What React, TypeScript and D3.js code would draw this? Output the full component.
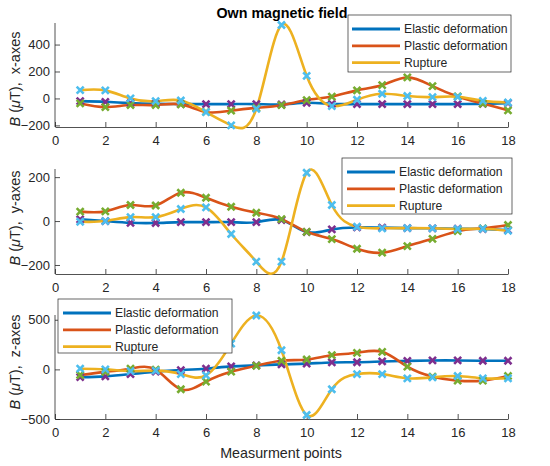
import { useEffect, useRef } from "react";
import * as d3 from "d3";

// measurement points along the x axis
const points = [1, 2, 3, 4, 5, 6, 7, 8, 9, 10, 11, 12, 13, 14, 15, 16, 17, 18];
const xTicks = [0, 2, 4, 6, 8, 10, 12, 14, 16, 18];
const seriesNames = ["Elastic deformation", "Plastic deformation", "Rupture"];

// x-axes component
const elasticX = [-20, -25, -35, -40, -42, -42, -42, -42, -45, -32, -40, -42, -42, -42, -42, -42, -40, -35];
const plasticX = [-37, -64, -49, -49, -44, -100, -91, -70, -50, -12, 14, 60, 99, 156, 91, 15, -38, -88];
const ruptureX = [62, 60, 0, -20, -15, -102, -200, -77, 545, 168, -57, -10, 35, 18, 10, 12, -18, -30];
const yTicksX = [-200, 0, 200, 400];

// y-axes component
const elasticY = [8, 0, -8, -9, -5, -5, -5, -5, 5, -50, -38, -29, -30, -32, -33, -35, -36, -41];
const plasticY = [43, 44, 73, 71, 129, 106, 65, 38, 9, -49, -82, -126, -144, -114, -81, -46, -33, -18];
const ruptureY = [-3, 0, 18, 18, 55, 62, -59, -185, -185, 220, 73, -26, -33, -32, -33, -36, -35, -44];
const yTicksY = [-200, 0, 200];

// z-axes component
const elasticZ = [-78, -70, -47, -23, -7, 7, 30, 40, 50, 58, 70, 72, 80, 86, 90, 90, 87, 87];
const plasticZ = [-57, -25, 7, -3, -200, -123, -23, 37, 87, 100, 143, 167, 177, 27, -73, -113, -113, -67];
const ruptureZ = [7, 0, -17, -13, -47, -60, 260, 543, 193, -460, -200, -47, -47, -90, -80, -67, -90, -90];
const yTicksZ = [-500, 0, 500];

const lineColors = ["#0072BD", "#D95319", "#EDB120"];
const markerColors = ["#7E2F8E", "#77AC30", "#4DBEEE"];
const font = "'Liberation Sans', Arial, Helvetica, sans-serif";
const ink = "#262626";

const panels = [
  {
    axisName: "x-axes",
    series: [elasticX, plasticX, ruptureX],
    domain: [-212, 560],
    ticks: yTicksX,
    top: 23,
    bottom: 127,
    labelY: 79,
    legend: { x: 348, y: 15, w: 163, h: 57, lineX: 352 },
  },
  {
    axisName: "y-axes",
    series: [elasticY, plasticY, ruptureY],
    domain: [-241, 237],
    ticks: yTicksY,
    top: 169,
    bottom: 274,
    labelY: 218,
    legend: { x: 342, y: 158, w: 170, h: 56, lineX: 347 },
  },
  {
    axisName: "z-axes",
    series: [elasticZ, plasticZ, ruptureZ],
    domain: [-500, 548],
    ticks: yTicksZ,
    top: 315,
    bottom: 419,
    labelY: 362,
    legend: { x: 58, y: 299, w: 174, h: 54, lineX: 63 },
  },
];

const App = () => {
  const ref = useRef<HTMLDivElement | null>(null);

  function chartRender(svg: any) {
    const width = 550;
    const height = 466;
    svg
      .attr("width", width)
      .attr("height", height)
      .style("position", "absolute")
      .style("left", 0)
      .style("top", 0)
      .style("background", "#fff")
      .style("font-family", font);

    const xscale = d3.scaleLinear().domain([0, 18]).range([55, 508]);

    panels.forEach((p) => {
      const yscale = d3.scaleLinear().domain(p.domain).range([p.bottom, p.top]);
      const g = svg.append("g");

      // axes
      const xAxis = d3.axisBottom(xscale).tickValues(xTicks).tickSizeInner(-5).tickSizeOuter(0).tickPadding(9);
      const yAxis = d3.axisLeft(yscale).tickValues(p.ticks).tickSizeInner(-5).tickSizeOuter(0).tickPadding(5);
      const gx = g.append("g").attr("transform", `translate(0, ${p.bottom})`).call(xAxis);
      const gy = g.append("g").attr("transform", `translate(55, 0)`).call(yAxis);
      [gx, gy].forEach((a) => {
        a.select(".domain").attr("stroke", ink).attr("stroke-width", 0.8);
        a.selectAll(".tick line").attr("stroke", ink).attr("stroke-width", 0.8);
        a.selectAll(".tick text").attr("fill", ink).attr("font-size", 13).attr("font-family", font);
      });
      gy.select(".domain").attr("d", `M0,${p.top}V${p.bottom}`);

      // y label
      const label = g
        .append("text")
        .attr("transform", `translate(20, ${p.labelY}) rotate(-90)`)
        .attr("text-anchor", "middle")
        .attr("font-size", 14.5)
        .attr("fill", ink)
        .attr("xml:space", "preserve")
        .style("white-space", "pre");
      label.append("tspan").attr("font-style", "italic").text("B");
      label.append("tspan").text(" (");
      label.append("tspan").attr("font-style", "italic").text("\u03bc");
      label.append("tspan").text(`T),  ${p.axisName}`);

      // spline curves
      const line = d3
        .line<number>()
        .x((_, i) => xscale(points[i]))
        .y((d) => yscale(d))
        .curve(d3.curveNatural);
      p.series.forEach((s, k) => {
        g.append("path")
          .attr("d", line(s))
          .attr("fill", "none")
          .attr("stroke", lineColors[k])
          .attr("stroke-width", 2.6);
      });

      // measured points
      p.series.forEach((s, k) => {
        g.append("g")
          .selectAll("path")
          .data(s)
          .join("path")
          .attr("transform", (d: number, i: number) => `translate(${xscale(points[i])}, ${yscale(d)})`)
          .attr("d", "M-3.5,-3.5L3.5,3.5M-3.5,3.5L3.5,-3.5")
          .attr("stroke", markerColors[k])
          .attr("stroke-width", 2.6)
          .attr("fill", "none");
      });

      // legend
      const L = p.legend;
      const lg = g.append("g");
      lg.append("rect")
        .attr("x", L.x)
        .attr("y", L.y)
        .attr("width", L.w)
        .attr("height", L.h)
        .attr("fill", "#fff")
        .attr("stroke", ink)
        .attr("stroke-width", 0.7);
      seriesNames.forEach((name, k) => {
        const ey = L.y + 14 + k * 16.8;
        lg.append("line")
          .attr("x1", L.lineX)
          .attr("x2", L.lineX + 48)
          .attr("y1", ey)
          .attr("y2", ey)
          .attr("stroke", lineColors[k])
          .attr("stroke-width", 2.8);
        lg.append("text")
          .attr("x", L.lineX + 52)
          .attr("y", ey)
          .attr("dy", "0.36em")
          .attr("font-size", 12.2)
          .attr("fill", ink)
          .text(name);
      });
    });

    svg
      .append("text")
      .attr("x", 282)
      .attr("y", 18)
      .attr("text-anchor", "middle")
      .attr("font-weight", "bold")
      .attr("font-size", 14.3)
      .attr("fill", "#000")
      .text("Own magnetic field");

    svg
      .append("text")
      .attr("x", 281)
      .attr("y", 458)
      .attr("text-anchor", "middle")
      .attr("font-size", 14.3)
      .attr("fill", ink)
      .text("Measurment points");
  }

  useEffect(() => {
    if (ref.current) {
      const svg = d3.select(ref.current).append("svg");
      chartRender(svg);
      return () => {
        svg.remove();
      };
    }
  }, []);

  return <div ref={ref}></div>;
};

export default App;
